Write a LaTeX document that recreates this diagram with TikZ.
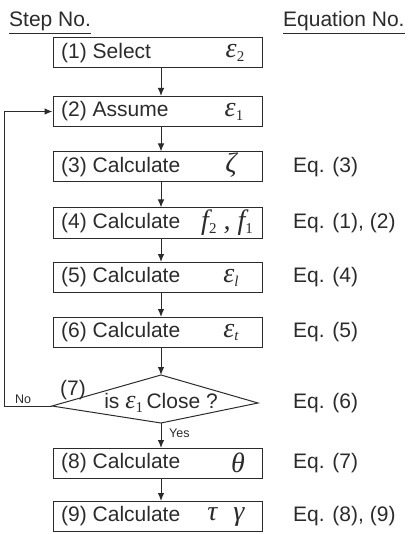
\documentclass[tikz,border=0pt]{standalone}
\usepackage{fontspec}
\setmainfont{Liberation Sans}
\newfontfamily\tms{Liberation Serif}
\newcommand\sbs[1]{\raisebox{-0.3ex}{\fontsize{15}{15}\selectfont #1}}
\usetikzlibrary{arrows.meta}
\definecolor{ink}{HTML}{2b2b2b}
\begin{document}
\begin{tikzpicture}[x=1pt,y=-1pt,
  stepbox/.style={draw=ink,line width=1pt,minimum width=209pt,minimum height=30pt,inner sep=0pt},
  lab/.style={anchor=west,inner sep=0pt,text=ink,font=\fontsize{21}{24}\selectfont},
  sym/.style={inner sep=0pt,text=ink,font=\tms\itshape\fontsize{28}{30}\selectfont},
  eqlab/.style={anchor=west,inner sep=0pt,text=ink,font=\fontsize{21}{24}\selectfont},
  tiny/.style={inner sep=0pt,text=ink,font=\fontsize{12.5}{13}\selectfont},
  flow/.style={draw=ink,line width=1pt,-{Latex[length=8pt,width=6.5pt]}},
  plain/.style={draw=ink,line width=1pt}
  ]
\useasboundingbox (0,0) rectangle (409,534);

% headers
\node[anchor=base west,inner sep=0pt,text=ink,font=\fontsize{21}{24}\selectfont] (h1) at (9,27) {\underline{Step No.}};
\node[anchor=base west,inner sep=0pt,text=ink,font=\fontsize{21}{24}\selectfont] (h2) at (283,27) {\underline{Equation No.}};

\coordinate (ax) at (161,0);

% step boxes
\node[stepbox] (b1) at (157.5,53) {};
\node[lab] (l1) at (61,53) {(1) Select};
\node[sym] (s1) at (235,53) {ε\sbs{\upshape 2}};

\node[stepbox] (b2) at (157.5,111.5) {};
\node[lab] (l2) at (61,111.5) {(2) Assume};
\node[sym] (s2) at (234,111.5) {ε\sbs{\upshape 1}};

\node[stepbox] (b3) at (157.5,167) {};
\node[lab] (l3) at (61,167) {(3) Calculate};
\node[sym] (s3) at (231,165) {ζ};
\node[eqlab] (e3) at (293,167) {Eq. (3)};

\node[stepbox] (b4) at (157.5,223) {};
\node[lab] (l4) at (61,223) {(4) Calculate};
\node[sym] (s4) at (227,223) {f\sbs{\upshape 2} , f\sbs{\upshape 1}};
\node[eqlab] (e4) at (293,223) {Eq. (1), (2)};

\node[stepbox] (b5) at (157.5,277.5) {};
\node[lab] (l5) at (61,277.5) {(5) Calculate};
\node[sym] (s5) at (231,277.5) {ε\sbs{l}};
\node[eqlab] (e5) at (293,277.5) {Eq. (4)};

\node[stepbox] (b6) at (157.5,332.5) {};
\node[lab] (l6) at (61,332.5) {(6) Calculate};
\node[sym] (s6) at (231,332.5) {ε\sbs{t}};
\node[eqlab] (e6) at (293,332.5) {Eq. (5)};

% decision diamond
\coordinate (dT) at (161,375);
\coordinate (dR) at (258,403);
\coordinate (dB) at (161,423);
\coordinate (dL) at (52,406);
\draw[plain] (dT) -- (dR) -- (dB) -- (dL) -- cycle;
\node[inner sep=0pt,text=ink,font=\fontsize{21}{24}\selectfont] (d7) at (73,390) {(7)};
\node[inner sep=0pt,text=ink,font=\fontsize{21}{24}\selectfont] (dt) at (161,403) {is {\tms\itshape\fontsize{26}{28}\selectfont ε\sbs{\upshape 1}}\,Close ?};
\node[eqlab] (e7) at (293,403) {Eq. (6)};

\node[stepbox] (b8) at (157.5,463.5) {};
\node[lab] (l8) at (61,463.5) {(8) Calculate};
\node[sym] (s8) at (238,462.5) {θ};
\node[eqlab] (e8) at (293,463.5) {Eq. (7)};

\node[stepbox] (b9) at (157.5,516.5) {};
\node[lab] (l9) at (61,516.5) {(9) Calculate};
\node[sym] (s9) at (226,517) {τ\hspace{16pt}γ};
\node[eqlab] (e9) at (293,516.5) {Eq. (8), (9)};

% connectors
\draw[flow] (b1.south -| ax) -- (b2.north -| ax);
\draw[flow] (b2.south -| ax) -- (b3.north -| ax);
\draw[flow] (b3.south -| ax) -- (b4.north -| ax);
\draw[flow] (b4.south -| ax) -- (b5.north -| ax);
\draw[flow] (b5.south -| ax) -- (b6.north -| ax);
\draw[flow] (b6.south -| ax) -- (dT);
\draw[flow] (dB) -- (b8.north -| ax);
\draw[flow] (b8.south -| ax) -- (b9.north -| ax);

\coordinate (fb) at (4.5,406);
\draw[flow] (dL) -- (fb) -- (fb |- b2.west) -- (b2.west);

\node[tiny] (no) at (23,399) {No};
\node[tiny,anchor=west] (yes) at (169,433) {Yes};
\end{tikzpicture}
\end{document}
